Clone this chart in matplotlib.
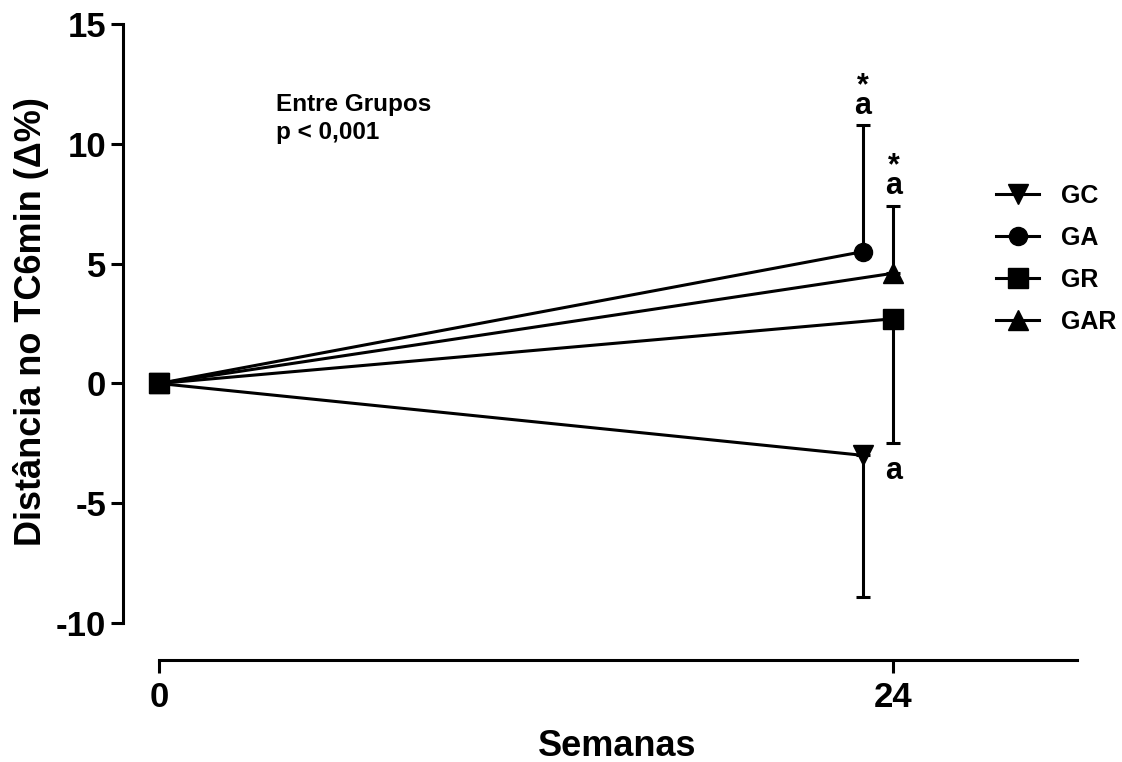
import matplotlib
matplotlib.use("Agg")
import matplotlib.pyplot as plt
from matplotlib.lines import Line2D

plt.rcParams['font.family'] = ['Liberation Sans', 'DejaVu Sans']
plt.rcParams['font.weight'] = 'bold'
plt.rcParams['axes.unicode_minus'] = False

groups = ["GC", "GA", "GR", "GAR"]
markers = {"GC": "v", "GA": "o", "GR": "s", "GAR": "^"}
x_weeks = {"GC": [0, 23], "GA": [0, 23], "GR": [0, 24], "GAR": [0, 24]}
means = {"GC": [0, -3.0], "GA": [0, 5.5], "GR": [0, 2.7], "GAR": [0, 4.6]}
err_low = {"GC": [0, 5.9], "GA": [0, 0], "GR": [0, 5.2], "GAR": [0, 0]}
err_high = {"GC": [0, 0], "GA": [0, 5.3], "GR": [0, 0], "GAR": [0, 2.8]}
msizes = {"GC": 14, "GA": 13, "GR": 14, "GAR": 14}
order = ["GC", "GA", "GAR", "GR"]
legend_order = ["GC", "GA", "GR", "GAR"]
# significance labels: (x, baseline y, text)
sig_labels = [(23, 11.25, "*\na"), (24, 7.92, "*\na"), (24, -4.0, "a")]

xticks = [0, 24]
yticks = [-10, -5, 0, 5, 10, 15]

fig = plt.figure(figsize=(11.22, 7.62), dpi=100)
ax = fig.add_axes([123/1122, 1-660/762, (1077-123)/1122, (660-24)/762])

for g in order:
    ax.errorbar(x_weeks[g], means[g], yerr=[err_low[g], err_high[g]],
                color='black', marker=markers[g], markersize=msizes[g],
                linewidth=2.2, elinewidth=2.2, capsize=5, capthick=2.2,
                zorder=3 if g != "GR" else 4)

ax.set_xlim(-1.18, 30)
ax.set_ylim(-11.54, 15)
ax.spines['top'].set_visible(False)
ax.spines['right'].set_visible(False)
ax.spines['left'].set_bounds(-10, 15)
ax.spines['bottom'].set_bounds(0, 30)
ax.spines['left'].set_linewidth(2.2)
ax.spines['bottom'].set_linewidth(2.2)
ax.set_xticks(xticks)
ax.set_yticks(yticks)
ax.tick_params(axis='both', direction='out', length=9, width=2.2, labelsize=25)
ax.tick_params(axis='y', pad=3)
ax.tick_params(axis='x', pad=6)
for lab in ax.get_xticklabels() + ax.get_yticklabels():
    lab.set_fontweight('bold')

ax.set_xlabel("Semanas", fontsize=26, fontweight='bold')
ax.set_ylabel("Distância no TC6min (Δ%)", fontsize=26, fontweight='bold')
ax.xaxis.set_label_coords((617 - 123) / 954, -0.108)
ax.xaxis.label.set_va('top')
ax.yaxis.set_label_coords((31 - 123) / 954, (660 - 322) / 636)
ax.yaxis.label.set_va('center')

ax.text(3.82, 11.05, "Entre Grupos\np < 0,001", fontsize=17.5, fontweight='bold',
        va='center', ha='left', linespacing=1.25)

for (sx, sy, st) in sig_labels:
    ax.text(sx, sy, st, fontsize=22, fontweight='bold', ha='center', va='baseline',
            linespacing=0.55)

leg_handles = [Line2D([], [], color='black', marker=markers[g], markersize=msizes[g],
                      linewidth=2.2) for g in legend_order]
leg = ax.legend(leg_handles, legend_order, loc='upper left', bbox_to_anchor=(0.905, 0.764),
                frameon=False, fontsize=18, handlelength=1.7, handletextpad=0.9,
                labelspacing=0.72, borderaxespad=0)
for t in leg.get_texts():
    t.set_fontweight('bold')

fig.savefig("out.png", dpi=100)
